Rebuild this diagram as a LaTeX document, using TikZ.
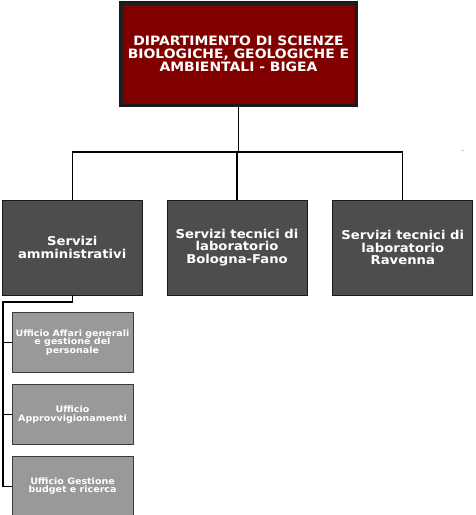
\documentclass[tikz,border=0pt]{standalone}
\usepackage{fontspec}
\setmainfont{DejaVu Sans}
\newfontfamily\boxfont[FakeStretch=1.08]{DejaVu Sans}
\usetikzlibrary{positioning}
\definecolor{deptred}{HTML}{800000}
\definecolor{servgrey}{HTML}{4D4D4D}
\definecolor{uffgrey}{HTML}{999999}
\definecolor{edgeink}{HTML}{1A1A1A}
\tikzset{
  deptbox/.style = {draw=edgeink, line width=1.6pt, fill=deptred, text=white,
                    align=center, inner sep=0pt, minimum width=237pt, minimum height=104pt,
                    font={\boxfont\bfseries\fontsize{12.9}{13}\selectfont}},
  servbox/.style = {draw=edgeink, line width=0.8pt, fill=servgrey, text=white,
                    align=center, inner sep=0pt, minimum width=140pt, minimum height=95pt,
                    font={\boxfont\bfseries\fontsize{12.2}{12.2}\selectfont}},
  uffbox/.style  = {draw=edgeink!85, line width=0.8pt, fill=uffgrey, text=white,
                    align=center, inner sep=0pt, minimum width=121pt, minimum height=60pt,
                    font={\boxfont\bfseries\fontsize{8.8}{8.8}\selectfont}},
  link/.style    = {draw=black, line width=1.2pt},
}
\begin{document}
\begin{tikzpicture}[x=1pt, y=-1pt, node distance=24pt]
    \useasboundingbox (0,0) rectangle (476,515);
    \node[deptbox] (dept) at (238.5,54) {DIPARTIMENTO DI SCIENZE\\BIOLOGICHE, GEOLOGICHE E\\AMBIENTALI - BIGEA};
    \draw[edgeink, line width=0.6pt] ([shift={(3pt,-3pt)}]dept.north west) rectangle ([shift={(-3pt,3pt)}]dept.south east);
    \node[servbox] (tecbo) at (237,247.5) {Servizi tecnici di\\laboratorio\\Bologna-Fano};
    \node[servbox,left=of tecbo] (amm) {Servizi\\amministrativi};
    \node[servbox,right=25pt of tecbo] (tecra) {Servizi tecnici di\\laboratorio\\Ravenna};
    \node[uffbox] (affari) at (72.5,342.5) {Ufficio Affari generali\\e gestione del\\personale};
    \node[uffbox,below=11pt of affari] (approv) {Ufficio\\Approvvigionamenti};
    \node[uffbox,below=11pt of approv] (budget) {Ufficio Gestione\\budget e ricerca};
    \node[font=\tiny, inner sep=0pt] (dash) at (463,152) {-};
    \coordinate (bus) at (238.5,152);
    \coordinate (spine) at (3,302);
    \draw[link] (dept.south) -- (bus);
    \draw[link] (amm.north) |- (bus) -| (tecra.north);
    \draw[link] (tecbo.north) -- (tecbo.north |- bus);
    \draw[link] (amm.south) |- (spine) |- (budget.west);
    \draw[link] (spine |- affari.west) -- (affari.west);
    \draw[link] (spine |- approv.west) -- (approv.west);
  \end{tikzpicture}
\end{document}
